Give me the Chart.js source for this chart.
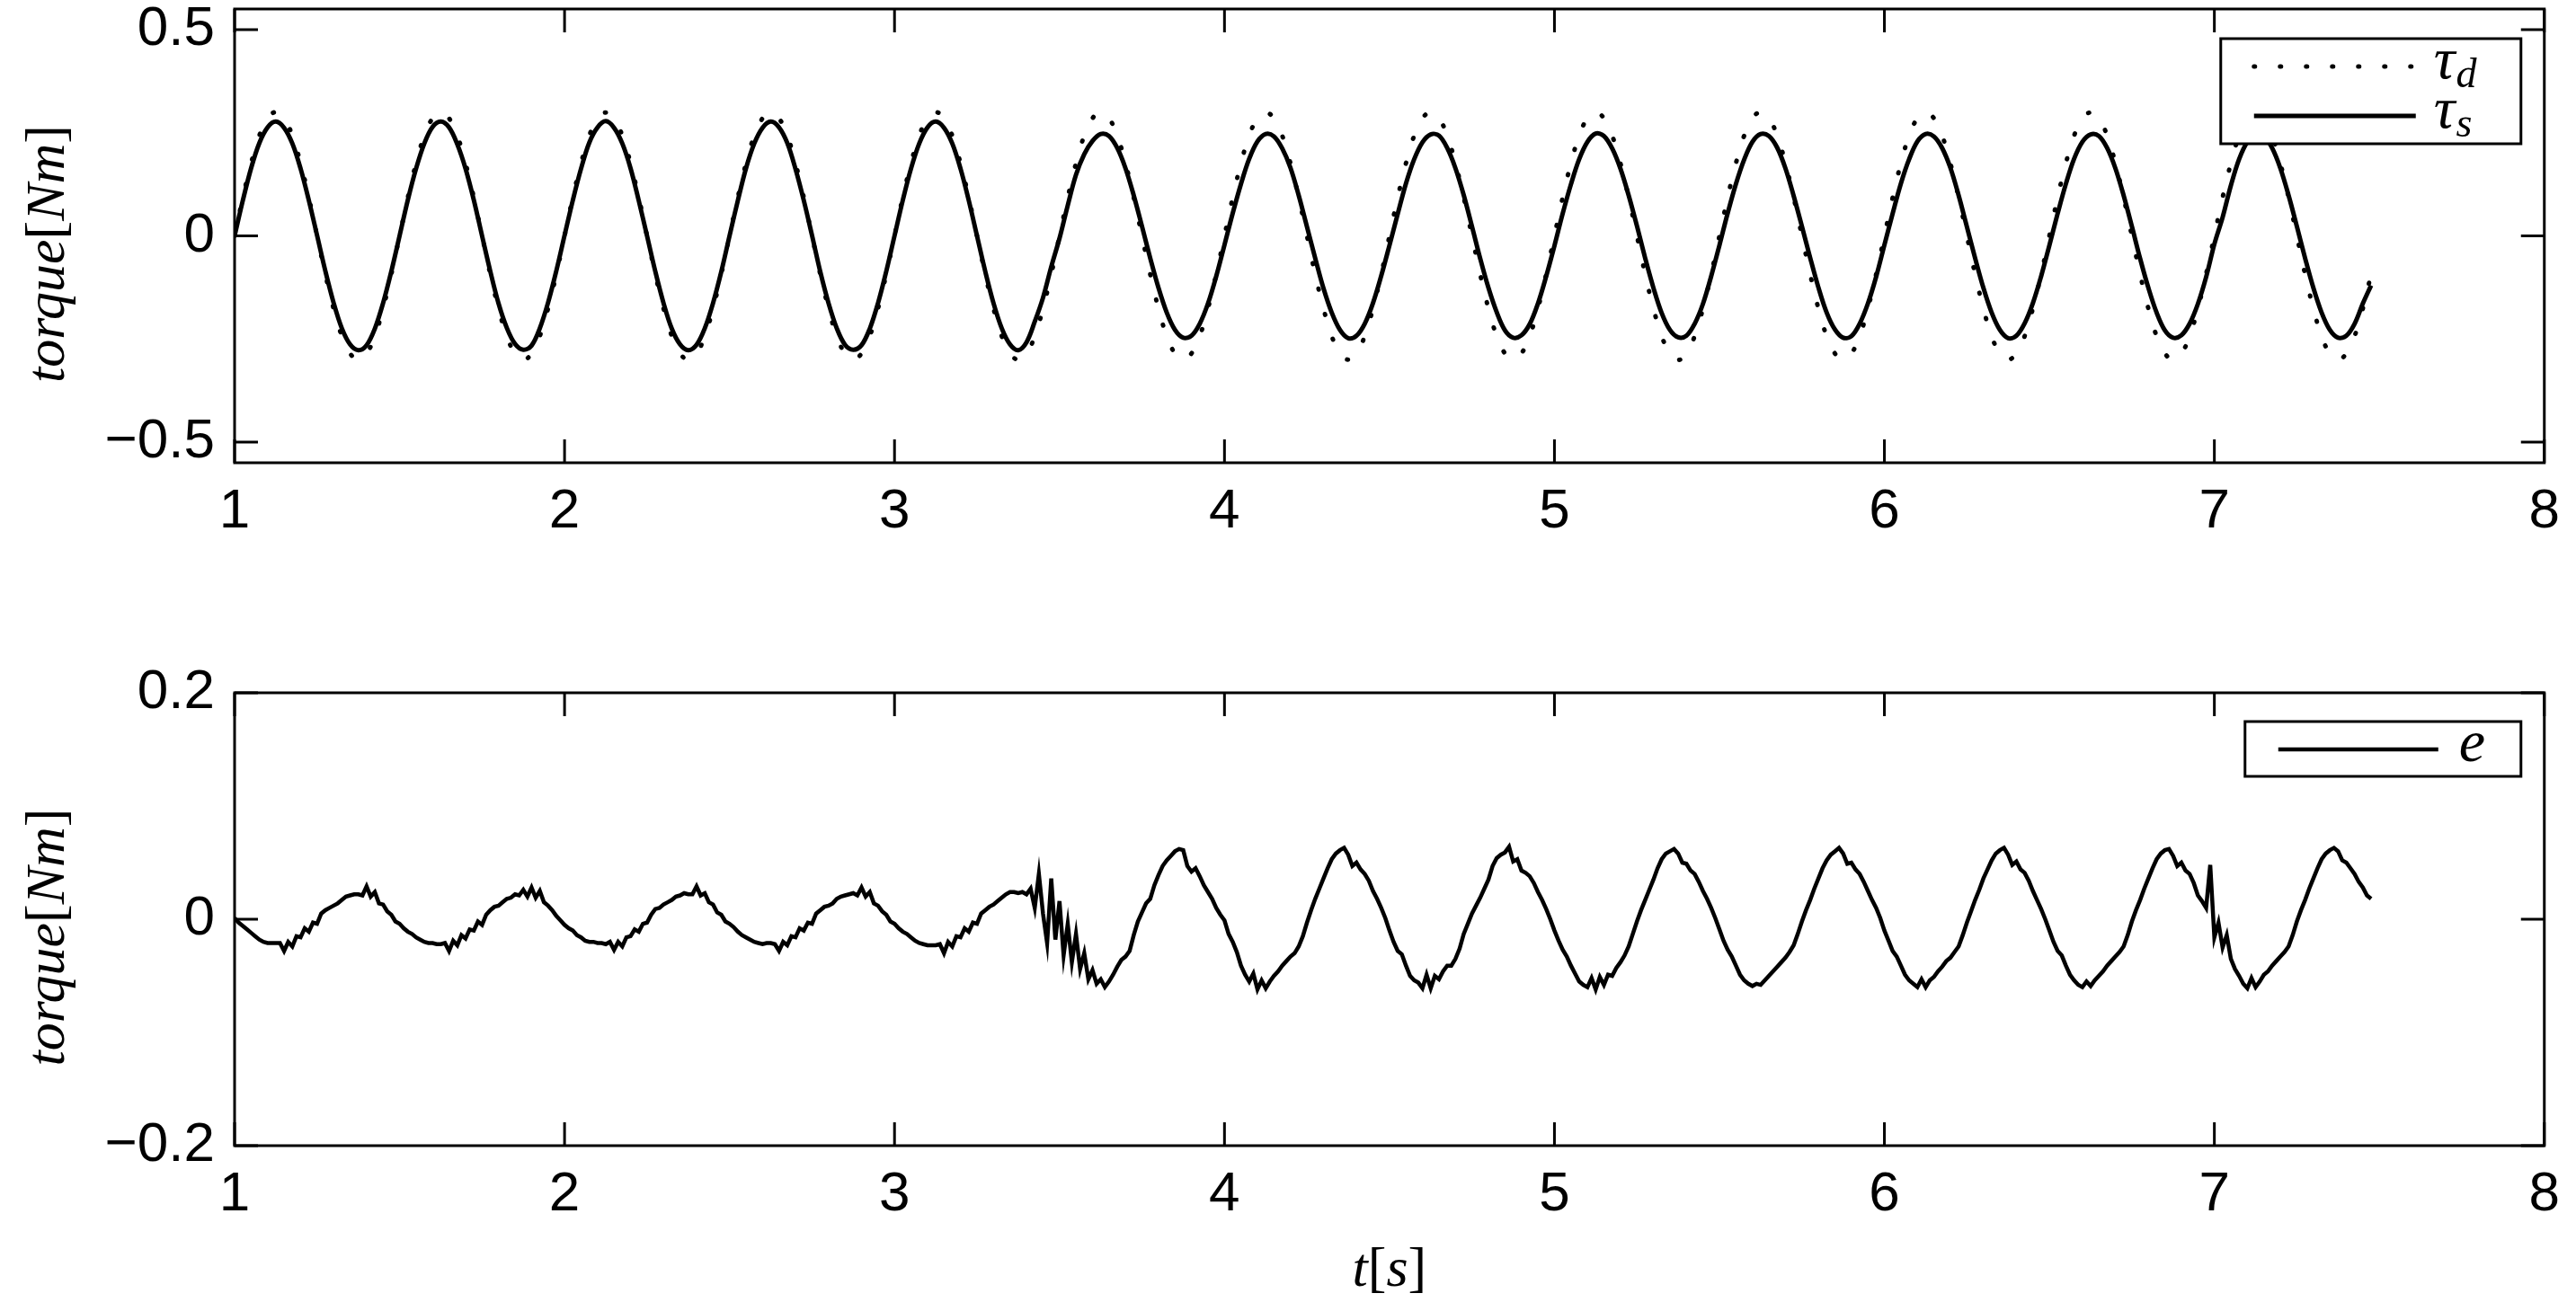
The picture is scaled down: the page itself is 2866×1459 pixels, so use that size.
<!DOCTYPE html>
<html>
<head>
<meta charset="utf-8">
<script src="https://cdn.jsdelivr.net/npm/chart.js@4.4.1/dist/chart.umd.min.js"></script>
<style>
  html, body { margin: 0; padding: 0; background: #fff; overflow: hidden; }
  #page { position: relative; width: 2866px; height: 1459px; background: #fff; overflow: hidden; }
  #page canvas { position: absolute; left: 0; }
  #torqueChart { top: -100px; }
  #errorChart { top: 640px; }
</style>
</head>
<body>
<div id="page">
  <canvas id="torqueChart" width="2866" height="740"></canvas>
  <canvas id="errorChart" width="2866" height="819"></canvas>
</div>
<script>
// sampling of the read-off curves (seconds)
const tauStart = 1, tauStep = 0.025;
const errStart = 1, errStep = 0.0125;

const xTicks = [1, 2, 3, 4, 5, 6, 7, 8];
const torqueTicks = [-0.5, 0, 0.5];
const errorTicks = [-0.2, 0, 0.2];

// tau_d, one row = 0.5 s
const tauD = [
  0, 0.093, 0.176, 0.243, 0.285, 0.300, 0.285, 0.243, 0.176, 0.093, 0, -0.093, -0.176, -0.243, -0.285, -0.300, -0.285, -0.243, -0.176, -0.093,
  0, 0.093, 0.176, 0.243, 0.285, 0.300, 0.285, 0.243, 0.176, 0.093, 0, -0.093, -0.176, -0.243, -0.285, -0.301, -0.285, -0.243, -0.176, -0.093,
  0, 0.093, 0.176, 0.243, 0.285, 0.299, 0.285, 0.243, 0.176, 0.093, 0, -0.093, -0.176, -0.243, -0.285, -0.300, -0.285, -0.243, -0.176, -0.093,
  0, 0.093, 0.176, 0.243, 0.285, 0.300, 0.285, 0.243, 0.176, 0.093, 0, -0.093, -0.176, -0.243, -0.285, -0.300, -0.285, -0.243, -0.176, -0.093,
  0, 0.093, 0.176, 0.243, 0.285, 0.300, 0.285, 0.243, 0.176, 0.093, 0, -0.093, -0.176, -0.243, -0.285, -0.300, -0.285, -0.243, -0.176, -0.093,
  0, 0.093, 0.176, 0.243, 0.285, 0.300, 0.285, 0.243, 0.176, 0.093, 0, -0.093, -0.176, -0.243, -0.285, -0.300, -0.285, -0.243, -0.176, -0.093,
  0, 0.093, 0.176, 0.243, 0.285, 0.299, 0.285, 0.243, 0.176, 0.093, 0, -0.093, -0.176, -0.243, -0.285, -0.300, -0.285, -0.243, -0.176, -0.093,
  0, 0.093, 0.176, 0.243, 0.285, 0.300, 0.285, 0.243, 0.176, 0.093, 0, -0.093, -0.176, -0.243, -0.285, -0.300, -0.285, -0.243, -0.176, -0.093,
  0, 0.093, 0.176, 0.243, 0.285, 0.300, 0.285, 0.243, 0.176, 0.093, 0, -0.093, -0.176, -0.243, -0.285, -0.301, -0.285, -0.243, -0.176, -0.093,
  0, 0.093, 0.176, 0.243, 0.285, 0.300, 0.285, 0.243, 0.176, 0.093, 0, -0.093, -0.176, -0.243, -0.285, -0.300, -0.285, -0.243, -0.176, -0.093,
  0, 0.093, 0.176, 0.243, 0.285, 0.300, 0.285, 0.243, 0.176, 0.093, 0, -0.093, -0.176, -0.243, -0.285, -0.300, -0.285, -0.243, -0.176, -0.093,
  0, 0.093, 0.176, 0.243, 0.285, 0.299, 0.285, 0.243, 0.176, 0.093, 0, -0.093, -0.176, -0.243, -0.285, -0.300, -0.285, -0.243, -0.176, -0.093,
  0, 0.093, 0.176, 0.243, 0.285, 0.300, 0.285, 0.243, 0.176, 0.093, 0, -0.093, -0.176, -0.243, -0.285, -0.300, -0.285, -0.243, -0.176, -0.093
];

// tau_s, one row = 0.5 s
const tauS = [
  0.000, 0.086, 0.164, 0.225, 0.263, 0.277, 0.262, 0.224, 0.163, 0.086, 0.001, -0.085, -0.162, -0.224, -0.263, -0.277, -0.265, -0.225, -0.163, -0.086,
  0.000, 0.087, 0.163, 0.224, 0.264, 0.277, 0.263, 0.222, 0.163, 0.087, 0.000, -0.086, -0.164, -0.223, -0.262, -0.276, -0.266, -0.224, -0.162, -0.085,
  0.001, 0.086, 0.163, 0.226, 0.263, 0.278, 0.262, 0.224, 0.164, 0.085, 0.000, -0.086, -0.163, -0.225, -0.263, -0.277, -0.264, -0.224, -0.163, -0.087,
  0.000, 0.085, 0.164, 0.224, 0.262, 0.277, 0.263, 0.225, 0.162, 0.086, 0.001, -0.087, -0.163, -0.224, -0.264, -0.276, -0.265, -0.225, -0.163, -0.086,
  0.000, 0.086, 0.163, 0.224, 0.263, 0.277, 0.262, 0.224, 0.163, 0.086, 0.000, -0.086, -0.163, -0.224, -0.263, -0.277, -0.258, -0.208, -0.150, -0.075,
  -0.006, 0.074, 0.148, 0.198, 0.230, 0.247, 0.242, 0.213, 0.164, 0.098, 0.023, -0.054, -0.126, -0.186, -0.228, -0.247, -0.242, -0.213, -0.164, -0.098,
  -0.022, 0.055, 0.126, 0.187, 0.229, 0.247, 0.241, 0.212, 0.165, 0.098, 0.022, -0.054, -0.127, -0.186, -0.228, -0.248, -0.242, -0.213, -0.163, -0.097,
  -0.023, 0.053, 0.127, 0.186, 0.227, 0.246, 0.243, 0.213, 0.164, 0.099, 0.023, -0.055, -0.126, -0.185, -0.229, -0.247, -0.241, -0.214, -0.164, -0.098,
  -0.024, 0.054, 0.125, 0.186, 0.228, 0.248, 0.242, 0.212, 0.163, 0.098, 0.024, -0.054, -0.126, -0.187, -0.228, -0.246, -0.242, -0.213, -0.165, -0.098,
  -0.023, 0.055, 0.126, 0.185, 0.228, 0.247, 0.242, 0.214, 0.164, 0.097, 0.023, -0.053, -0.125, -0.186, -0.227, -0.247, -0.243, -0.213, -0.164, -0.099,
  -0.022, 0.054, 0.127, 0.186, 0.229, 0.247, 0.241, 0.213, 0.165, 0.098, 0.022, -0.054, -0.126, -0.186, -0.228, -0.248, -0.242, -0.212, -0.163, -0.098,
  -0.023, 0.054, 0.126, 0.187, 0.228, 0.246, 0.242, 0.213, 0.164, 0.098, 0.023, -0.055, -0.126, -0.186, -0.229, -0.247, -0.241, -0.213, -0.165, -0.100,
  -0.020, 0.045, 0.122, 0.186, 0.228, 0.247, 0.242, 0.213, 0.164, 0.098, 0.023, -0.054, -0.126, -0.186, -0.228, -0.247, -0.242, -0.213, -0.164, -0.120
];

// e = tau_s - tau_d, 0.0125 s grid
const err = [
  // 1.0 - 1.5
  0.001, -0.003, -0.006, -0.009, -0.012, -0.015, -0.018, -0.020, -0.021, -0.021, -0.021, -0.021, -0.028, -0.020, -0.024, -0.015, -0.016, -0.008, -0.011, -0.003,
  -0.004, 0.005, 0.008, 0.010, 0.012, 0.014, 0.017, 0.020, 0.021, 0.022, 0.022, 0.021, 0.029, 0.020, 0.024, 0.014, 0.013, 0.007, 0.004, -0.002,
  // 1.5 - 2.0
  -0.004, -0.008, -0.011, -0.013, -0.016, -0.018, -0.020, -0.021, -0.021, -0.022, -0.022, -0.021, -0.028, -0.019, -0.023, -0.014, -0.017, -0.009, -0.010, -0.002,
  -0.005, 0.004, 0.008, 0.011, 0.012, 0.015, 0.018, 0.019, 0.022, 0.021, 0.026, 0.020, 0.028, 0.019, 0.025, 0.015, 0.012, 0.008, 0.003, -0.001,
  // 2.0 - 2.5
  -0.005, -0.008, -0.010, -0.014, -0.016, -0.019, -0.020, -0.020, -0.021, -0.021, -0.022, -0.020, -0.027, -0.020, -0.024, -0.016, -0.015, -0.009, -0.011, -0.004,
  -0.003, 0.004, 0.009, 0.010, 0.013, 0.015, 0.017, 0.020, 0.021, 0.023, 0.022, 0.022, 0.029, 0.021, 0.023, 0.015, 0.013, 0.006, 0.004, -0.002,
  // 2.5 - 3.0
  -0.004, -0.007, -0.011, -0.014, -0.016, -0.018, -0.020, -0.021, -0.022, -0.021, -0.021, -0.022, -0.028, -0.020, -0.023, -0.015, -0.016, -0.008, -0.010, -0.003,
  -0.004, 0.005, 0.008, 0.011, 0.012, 0.014, 0.018, 0.020, 0.021, 0.022, 0.023, 0.021, 0.028, 0.020, 0.024, 0.014, 0.012, 0.007, 0.004, -0.002,
  // 3.0 - 3.4
  -0.004, -0.008, -0.011, -0.013, -0.016, -0.019, -0.021, -0.022, -0.023, -0.023, -0.023, -0.022, -0.030, -0.020, -0.024, -0.015, -0.016, -0.008, -0.011, -0.003,
  -0.004, 0.005, 0.008, 0.011, 0.013, 0.016, 0.019, 0.022, 0.024, 0.024, 0.023, 0.024,
  // 3.4 - 3.65 switching burst
  0.022, 0.027, 0.010, 0.040, 0.005, -0.021, 0.036, -0.018, 0.016, -0.032, -0.004, -0.038, -0.013, -0.044, -0.030, -0.053, -0.045, -0.057, -0.053, -0.060,
  // 3.65 - 4.1
  -0.055, -0.049, -0.042, -0.036, -0.033, -0.028, -0.014, -0.002, 0.006, 0.014, 0.018, 0.030, 0.039, 0.047, 0.052, 0.056, 0.060, 0.062, 0.061, 0.047,
  0.042, 0.045, 0.038, 0.030, 0.024, 0.018, 0.010, 0.004, -0.001, -0.013, -0.020, -0.029, -0.041, -0.049, -0.055, -0.048,
  // 4.1 - 4.6
  -0.062, -0.054, -0.061, -0.055, -0.050, -0.046, -0.041, -0.037, -0.033, -0.030, -0.024, -0.015, -0.003, 0.008, 0.018, 0.027, 0.036, 0.045, 0.053, 0.058,
  0.061, 0.063, 0.057, 0.047, 0.050, 0.044, 0.040, 0.034, 0.025, 0.018, 0.010, 0.001, -0.010, -0.020, -0.028, -0.031, -0.041, -0.050, -0.054, -0.056,
  // 4.6 - 5.1
  -0.061, -0.049, -0.061, -0.050, -0.053, -0.046, -0.041, -0.041, -0.035, -0.026, -0.013, -0.004, 0.005, 0.012, 0.019, 0.027, 0.035, 0.047, 0.054, 0.057,
  0.059, 0.064, 0.051, 0.053, 0.043, 0.041, 0.038, 0.032, 0.024, 0.017, 0.009, 0.000, -0.010, -0.019, -0.027, -0.033, -0.041, -0.048, -0.055, -0.058,
  // 5.1 - 5.6
  -0.060, -0.052, -0.062, -0.051, -0.058, -0.049, -0.050, -0.043, -0.038, -0.032, -0.024, -0.013, -0.002, 0.008, 0.017, 0.026, 0.035, 0.045, 0.053, 0.058,
  0.060, 0.062, 0.058, 0.050, 0.049, 0.043, 0.040, 0.033, 0.025, 0.018, 0.010, 0.001, -0.009, -0.019, -0.027, -0.033, -0.041, -0.049, -0.054, -0.057,
  // 5.6 - 6.1
  -0.059, -0.057, -0.058, -0.054, -0.050, -0.046, -0.042, -0.038, -0.034, -0.029, -0.023, -0.013, -0.002, 0.008, 0.017, 0.027, 0.036, 0.045, 0.052, 0.057,
  0.060, 0.063, 0.058, 0.049, 0.050, 0.044, 0.040, 0.033, 0.025, 0.017, 0.010, 0.001, -0.010, -0.019, -0.028, -0.033, -0.041, -0.049, -0.054, -0.057,
  // 6.1 - 6.6
  -0.060, -0.053, -0.060, -0.054, -0.051, -0.046, -0.042, -0.037, -0.034, -0.029, -0.024, -0.014, -0.003, 0.007, 0.017, 0.026, 0.036, 0.044, 0.052, 0.058,
  0.061, 0.063, 0.057, 0.048, 0.051, 0.044, 0.041, 0.034, 0.025, 0.017, 0.009, 0.000, -0.010, -0.020, -0.028, -0.032, -0.041, -0.049, -0.054, -0.058,
  // 6.6 - 7.1 (glitch near 7.0)
  -0.060, -0.055, -0.059, -0.054, -0.050, -0.046, -0.041, -0.037, -0.033, -0.029, -0.024, -0.014, -0.002, 0.008, 0.017, 0.027, 0.036, 0.045, 0.053, 0.058,
  0.061, 0.062, 0.056, 0.047, 0.050, 0.043, 0.040, 0.032, 0.021, 0.016, 0.010, 0.048, -0.016, -0.003, -0.025, -0.014, -0.035, -0.044, -0.050, -0.057,
  // 7.1 - 7.475
  -0.061, -0.052, -0.060, -0.055, -0.049, -0.046, -0.041, -0.037, -0.033, -0.029, -0.024, -0.014, -0.002, 0.008, 0.017, 0.027, 0.036, 0.045, 0.053, 0.058,
  0.061, 0.063, 0.060, 0.052, 0.050, 0.045, 0.040, 0.033, 0.028, 0.021, 0.018
];

const toPoints = (vals, t0, dt) => vals.map((v, i) => ({ x: +(t0 + i * dt).toFixed(4), y: v }));

const TICK = 26;
const TICK_FONT = { family: '"Liberation Sans", Arial, sans-serif', size: 62, lineHeight: 1.2 };
const SERIF = '"Liberation Serif", "DejaVu Serif", "Times New Roman", serif';
const IT = 'italic 62px ' + SERIF;
const RM = '62px ' + SERIF;

const minusLabel = v => (v < 0 ? '\u2212' : '') + Math.abs(v);

function drawRich(ctx, parts, x, y) {
  let w = 0;
  parts.forEach(p => { ctx.font = p[1]; w += ctx.measureText(p[0]).width; });
  let cx = x - w / 2;
  parts.forEach(p => {
    ctx.font = p[1];
    ctx.fillText(p[0], cx, y + (p[2] || 0));
    cx += ctx.measureText(p[0]).width;
  });
}

// box, inward ticks, axis titles and legend, MATLAB style
const matlabFrame = {
  id: 'matlabFrame',
  afterDraw(chart, args, opts) {
    const { ctx, chartArea: a, scales } = chart;
    ctx.save();
    ctx.strokeStyle = '#000';
    ctx.fillStyle = '#000';
    ctx.lineWidth = 3;
    ctx.strokeRect(a.left, a.top, a.right - a.left, a.bottom - a.top);
    ctx.beginPath();
    scales.x.ticks.forEach(t => {
      const px = scales.x.getPixelForValue(t.value);
      ctx.moveTo(px, a.bottom); ctx.lineTo(px, a.bottom - TICK);
      ctx.moveTo(px, a.top); ctx.lineTo(px, a.top + TICK);
    });
    scales.y.ticks.forEach(t => {
      const py = scales.y.getPixelForValue(t.value);
      ctx.moveTo(a.left, py); ctx.lineTo(a.left + TICK, py);
      ctx.moveTo(a.right, py); ctx.lineTo(a.right - TICK, py);
    });
    ctx.stroke();

    ctx.textAlign = 'left';
    ctx.textBaseline = 'middle';
    // y title
    ctx.save();
    ctx.translate(a.left - 206, (a.top + a.bottom) / 2 + 20);
    ctx.rotate(-Math.PI / 2);
    drawRich(ctx, [['torque', IT], ['[', RM], ['Nm', IT], [']', RM]], 0, 0);
    ctx.restore();
    // x title
    if (opts.xTitle) {
      drawRich(ctx, [['t', IT], ['[', RM], ['s', IT], [']', RM]], (a.left + a.right) / 2, a.bottom + 140);
    }

    // legend
    const L = opts.legend;
    const bx = a.right - L.right - L.width, by = a.top + L.top;
    ctx.fillStyle = '#fff';
    ctx.fillRect(bx, by, L.width, L.height);
    ctx.lineWidth = 3;
    ctx.strokeRect(bx, by, L.width, L.height);
    ctx.fillStyle = '#000';
    ctx.textBaseline = 'alphabetic';
    chart.data.datasets.forEach((ds, i) => {
      const ry = by + L.rows[i];
      ctx.save();
      ctx.lineWidth = ds.borderWidth;
      ctx.lineCap = ds.borderCapStyle || 'butt';
      ctx.setLineDash(ds.borderDash || []);
      ctx.beginPath();
      ctx.moveTo(bx + L.lineFrom, ry);
      ctx.lineTo(bx + L.lineTo, ry);
      ctx.stroke();
      ctx.restore();
      ctx.font = 'italic 66px ' + SERIF;
      ctx.fillText(ds.symbol, bx + L.textAt, ry + 13);
      if (ds.sub) {
        const w = ctx.measureText(ds.symbol).width;
        ctx.font = 'italic 46px ' + SERIF;
        ctx.fillText(ds.sub, bx + L.textAt + w + 1, ry + 23);
      }
    });
    ctx.restore();
  }
};

function axes(yMin, yMax, yTicks, xHeight) {
  return {
    x: {
      type: 'linear', min: 1, max: 8,
      afterBuildTicks: s => { s.ticks = xTicks.map(v => ({ value: v })); },
      afterFit: s => { s.height = xHeight; },
      grid: { display: false, drawTicks: false },
      border: { display: false },
      ticks: { color: '#000', font: TICK_FONT, padding: 18, maxRotation: 0, autoSkip: false, callback: v => String(v) }
    },
    y: {
      type: 'linear', min: yMin, max: yMax,
      afterBuildTicks: s => { s.ticks = yTicks.map(v => ({ value: v })); },
      afterFit: s => { s.width = 261; },
      grid: { display: false, drawTicks: false },
      border: { display: false },
      ticks: { color: '#000', font: TICK_FONT, padding: 22, callback: minusLabel }
    }
  };
}

new Chart(document.getElementById('torqueChart'), {
  type: 'line',
  data: {
    datasets: [
      {
        label: 'tau_d', symbol: '\u03C4', sub: 'd',
        data: toPoints(tauD, tauStart, tauStep),
        borderColor: '#000', borderWidth: 5, borderDash: [1, 28], borderCapStyle: 'round',
        tension: 0.4, pointRadius: 0, order: 2
      },
      {
        label: 'tau_s', symbol: '\u03C4', sub: 's',
        data: toPoints(tauS, tauStart, tauStep),
        borderColor: '#000', borderWidth: 5, tension: 0.35, pointRadius: 0, order: 1
      }
    ]
  },
  options: {
    responsive: false, animation: false, devicePixelRatio: 1,
    layout: { padding: { top: 110, right: 29, left: 0, bottom: 0 } },
    scales: axes(-0.55, 0.55, torqueTicks, 125),
    plugins: {
      legend: { display: false }, tooltip: { enabled: false },
      matlabFrame: { xTitle: false, legend: { right: 26, top: 33, width: 334, height: 117, rows: [31, 86], lineFrom: 37, lineTo: 217, textAt: 237 } }
    }
  },
  plugins: [matlabFrame]
});

new Chart(document.getElementById('errorChart'), {
  type: 'line',
  data: {
    datasets: [
      {
        label: 'e', symbol: 'e',
        data: toPoints(err, errStart, errStep),
        borderColor: '#000', borderWidth: 4.5, tension: 0, pointRadius: 0
      }
    ]
  },
  options: {
    responsive: false, animation: false, devicePixelRatio: 1,
    layout: { padding: { top: 131, right: 29, left: 0, bottom: 0 } },
    scales: axes(-0.2, 0.2, errorTicks, 184),
    plugins: {
      legend: { display: false }, tooltip: { enabled: false },
      matlabFrame: { xTitle: true, legend: { right: 26, top: 32, width: 307, height: 61, rows: [31], lineFrom: 37, lineTo: 215, textAt: 238 } }
    }
  },
  plugins: [matlabFrame]
});
</script>
</body>
</html>
